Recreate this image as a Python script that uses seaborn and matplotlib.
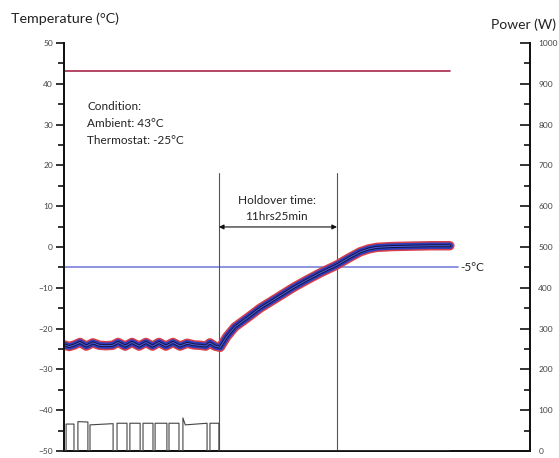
import matplotlib
matplotlib.use("Agg")
import matplotlib.pyplot as plt
import seaborn as sns
import pandas as pd

# ---------------- data ----------------
temp_x = [0.0, 0.2, 0.4, 0.61, 0.85, 1.10, 1.35, 1.6, 1.85, 2.06, 2.33, 2.59, 2.86, 3.12,
          3.37, 3.62, 3.88, 4.15, 4.42, 4.69, 4.95, 5.2, 5.4, 5.56, 5.75, 5.95, 6.2, 6.51,
          7.0, 7.47, 8.1, 8.72, 9.25, 9.75, 10.4, 10.85, 11.28, 11.6, 11.92, 12.5, 13.2,
          14.0, 14.7]
temp_y = [-24.0, -24.4, -24.0, -23.4, -24.3, -23.5, -24.1, -24.2, -24.1, -23.4, -24.3,
          -23.4, -24.3, -23.4, -24.3, -23.4, -24.3, -23.4, -24.3, -23.6, -24.0, -24.1,
          -24.3, -23.5, -24.3, -24.6, -22.0, -19.6, -17.3, -15.0, -12.5, -10.0, -8.1,
          -6.4, -4.4, -2.7, -1.2, -0.5, -0.1, 0.1, 0.2, 0.3, 0.3]

power_x = [0.0, 0.08, 0.08, 0.38, 0.38, 0.53, 0.53, 0.91, 0.91, 0.99, 0.99, 1.87, 1.87,
           2.02, 2.02, 2.40, 2.40, 2.51, 2.51, 2.90, 2.90, 3.01, 3.01, 3.39, 3.39, 3.47,
           3.47, 3.92, 3.92, 4.00, 4.00, 4.38, 4.38, 4.53, 4.53, 4.62, 5.45, 5.45, 5.56,
           5.56, 5.90, 5.90, 14.7]
power_y = [0, 0, 66, 66, 0, 0, 72, 71, 0, 0, 64, 67, 0, 0, 68, 68, 0, 0, 68, 68, 0, 0,
           68, 68, 0, 0, 68, 68, 0, 0, 68, 68, 0, 0, 81, 64, 68, 0, 0, 68, 68, 0, 0]

ambient = 43
limit = -5
holdover_start = 5.9
holdover_end = 10.4
left_ticks = [-50, -40, -30, -20, -10, 0, 10, 20, 30, 40, 50]
right_ticks = [0, 100, 200, 300, 400, 500, 600, 700, 800, 900, 1000]
x_ticks = list(range(0, 18))

# ---------------- style ----------------
sns.set_style("white")
plt.rcParams['font.family'] = ['Lato', 'DejaVu Sans']

fig = plt.figure(figsize=(5.59, 4.58), dpi=100)
ax = fig.add_axes([0.1145, 0.0153, 0.8335, 0.891])
ax2 = ax.twinx()

temp_df = pd.DataFrame({"x": temp_x, "y": temp_y})
power_df = pd.DataFrame({"x": power_x, "y": power_y})

# reference lines
ax.plot([0, 14.7], [ambient, ambient], color="#a8284c", lw=1.2, zorder=2)
ax.plot([0, 15.0], [limit, limit], color="#7a80dc", lw=1.2, zorder=2)
for xv in (holdover_start, holdover_end):
    ax.plot([xv, xv], [-50, 18], color="#555555", lw=0.8, zorder=3)

# temperature probe band
for col, lw in (("#d8404a", 6.8), ("#2c3cbc", 4.6), ("#101030", 2.0), ("#4a5ad8", 0.8)):
    sns.lineplot(data=temp_df, x="x", y="y", ax=ax, color=col, lw=lw,
                 sort=False, estimator=None, zorder=4)

# power trace
sns.lineplot(data=power_df, x="x", y="y", ax=ax2, color="#444444", lw=0.8,
             sort=False, estimator=None, zorder=3)

ax.set_xlim(0, 17.75)
ax.set_ylim(-50, 50)
ax2.set_ylim(0, 1000)
ax.set_xlabel("")
ax.set_ylabel("")
ax2.set_ylabel("")

ax.set_xticks(x_ticks)
ax.set_xticklabels([])
ax.tick_params(axis='x', direction='out', length=5, width=1.2, color="#111111")

ax.set_yticks(left_ticks)
ax.set_yticks(list(range(-45, 50, 10)), minor=True)
ax.tick_params(axis='y', which='both', direction='out', length=6, width=1.2,
               color="#111111", labelsize=6, labelcolor="#444444", pad=2)
ax.tick_params(axis='y', which='minor', length=4)

ax2.set_yticks(right_ticks)
ax2.set_yticks(list(range(50, 1000, 100)), minor=True)
ax2.tick_params(axis='y', which='both', direction='in', length=7, width=1.2,
                color="#111111", labelsize=6, labelcolor="#444444", pad=6)
ax2.tick_params(axis='y', which='minor', length=4)

for a in (ax, ax2):
    a.spines['top'].set_visible(False)
    for s in ('left', 'right', 'bottom'):
        a.spines[s].set_color("#111111")
        a.spines[s].set_linewidth(1.3)

# annotations
fig.text(11 / 559, 1 - 19 / 458, "Temperature (°C)", fontsize=10.3, va="center", ha="left",
         color="#222222")
fig.text(556 / 559, 1 - 25 / 458, "Power (W)", fontsize=10, va="center", ha="right",
         color="#222222")

fs = 8.5
ax.text(0.88, 34.3, "Condition:", fontsize=fs, va="center", ha="left", color="#222222")
ax.text(0.88, 30.3, "Ambient: 43°C", fontsize=fs, va="center", ha="left", color="#222222")
ax.text(0.88, 26.2, "Thermostat: -25°C", fontsize=fs, va="center", ha="left", color="#222222")

ax.text(8.1, 11.3, "Holdover time:", fontsize=fs, va="center", ha="center", color="#222222")
ax.text(8.1, 7.4, "11hrs25min", fontsize=fs, va="center", ha="center", color="#222222")
ax.annotate("", xy=(holdover_start, 4.9), xytext=(holdover_end, 4.9),
            arrowprops=dict(arrowstyle="<|-|>", color="#111111", lw=0.8,
                            mutation_scale=7, shrinkA=0, shrinkB=0))
ax.text(15.1, limit, "-5°C", fontsize=fs, va="center", ha="left", color="#222222")

fig.savefig("out.png", dpi=100)
